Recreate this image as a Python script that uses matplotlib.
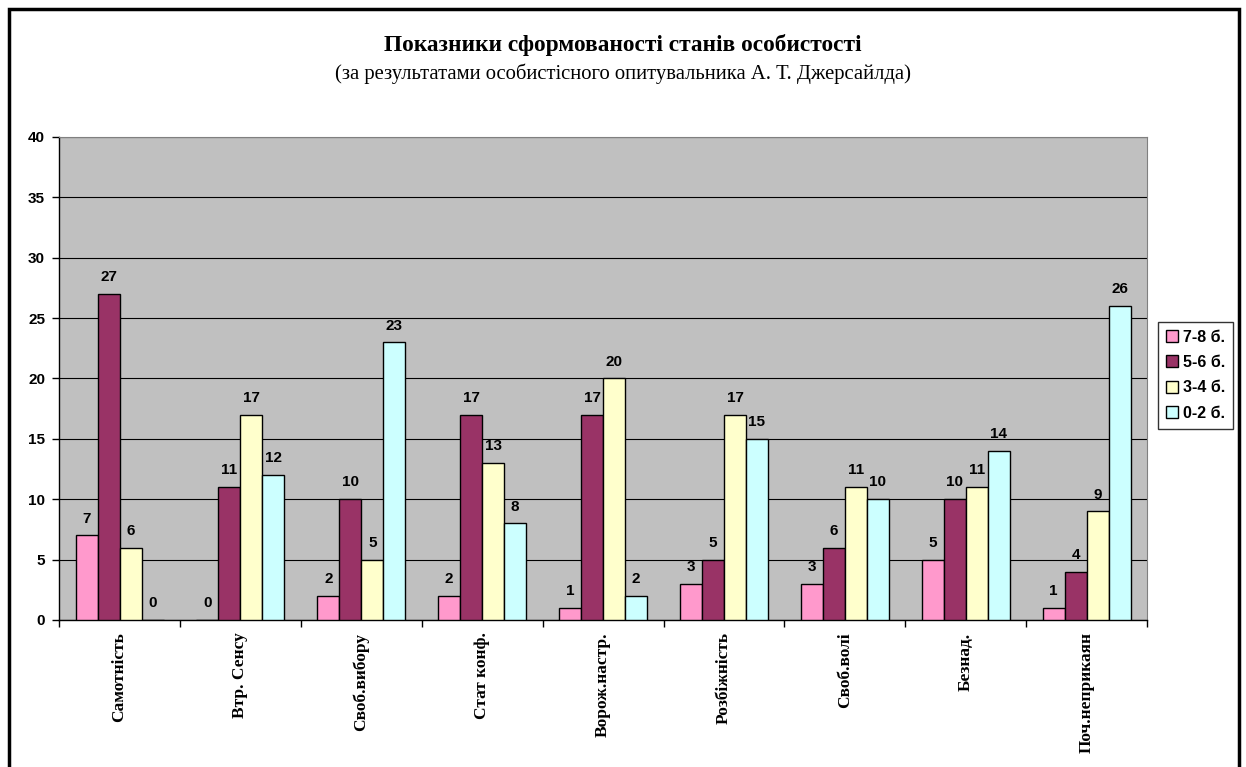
import numpy as np
import matplotlib
matplotlib.use("Agg")
import matplotlib.pyplot as plt
import matplotlib.patches as mp
from matplotlib.ticker import FixedLocator

categories = ["Самотність", "Втр. Сенсу", "Своб.вибору", "Стат конф.", "Ворож.настр.",
              "Розбіжність", "Своб.волі", "Безнад.", "Поч.неприкаян"]
s78 = [7, 0, 2, 2, 1, 3, 3, 5, 1]
s56 = [27, 11, 10, 17, 17, 5, 6, 10, 4]
s34 = [6, 17, 5, 13, 20, 17, 11, 11, 9]
s02 = [0, 12, 23, 8, 2, 15, 10, 14, 26]
series_names = ["7-8 б.", "5-6 б.", "3-4 б.", "0-2 б."]
colors = ["#FF99CC", "#993366", "#FFFFCC", "#CCFFFF"]

SANS = "Liberation Sans"
SERIF = "Liberation Serif"

fig = plt.figure(figsize=(12.46, 7.67), dpi=100)
ax = fig.add_axes([0.0474, 0.1917, 0.8732, 0.6297])
ax.set_facecolor("#C0C0C0")

x = np.arange(len(categories))
w = 0.182
for i, (vals, name, col) in enumerate(zip([s78, s56, s34, s02], series_names, colors)):
    pos = x + (i - 1.5) * w
    bars = ax.bar(pos, vals, width=w, color=col, edgecolor="black", linewidth=1.0,
                  label=name, zorder=3)
    for b, v in zip(bars, vals):
        ax.annotate(str(v), (b.get_x() + b.get_width() / 2, v), xytext=(0, 7),
                    textcoords="offset points", ha="center", va="bottom",
                    fontsize=11, fontweight="bold", family=SANS, zorder=4)

ax.set_xlim(-0.5, len(categories) - 0.5)
ax.set_ylim(0, 40)
ax.set_yticks(range(0, 41, 5))
ax.yaxis.grid(True, color="black", linewidth=0.8, zorder=1)
ax.set_axisbelow(True)
ax.tick_params(axis="y", direction="out", length=5, width=1, labelsize=11, pad=5)
for t in ax.get_yticklabels():
    t.set_fontweight("bold"); t.set_family(SANS)

ax.set_xticks(x)
ax.set_xticklabels(categories, rotation=90, fontsize=12.5, fontweight="bold", family=SERIF)
ax.tick_params(axis="x", which="major", length=0, pad=9)
ax.xaxis.set_minor_locator(FixedLocator(np.arange(-0.5, len(categories), 1.0)))
ax.tick_params(axis="x", which="minor", length=5, width=1, direction="out")

for s in ["top", "right"]:
    ax.spines[s].set_color("#808080"); ax.spines[s].set_linewidth(0.8)
for s in ["left", "bottom"]:
    ax.spines[s].set_color("black"); ax.spines[s].set_linewidth(1.0)

leg = ax.legend(loc="center left", bbox_to_anchor=(1.0101, 0.507), frameon=True,
                fancybox=False, edgecolor="black", handlelength=0.75, handleheight=0.75,
                handletextpad=0.3, labelspacing=0.65, borderpad=0.5, borderaxespad=0,
                prop={"family": SANS, "weight": "bold", "size": 11.5})
leg.get_frame().set_linewidth(1.0)

fig.text(0.5, 1 - 45 / 767, "Показники сформованості станів особистості", ha="center",
         va="center", fontsize=16.8, fontweight="bold", family=SERIF)
fig.text(0.5, 1 - 74 / 767, "(за результатами особистісного опитувальника А. Т. Джерсайлда)",
         ha="center", va="center", fontsize=14.9, family=SERIF)

fig.patches.append(mp.Rectangle((9 / 1246, -0.05), 1230 / 1246, 1 - 9 / 767 + 0.05,
                                transform=fig.transFigure, fill=False, edgecolor="black",
                                linewidth=2.5, clip_on=False))

fig.savefig("out.png", dpi=100, facecolor="white")
